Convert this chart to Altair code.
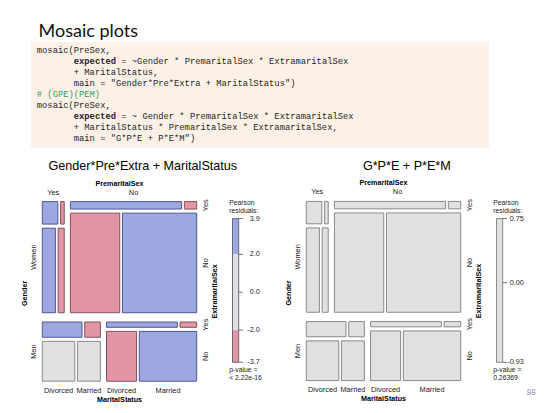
import altair as alt
import pandas as pd

# ---------------- page geometry ----------------
PAGE_W, PAGE_H, MARGIN = 550, 413, 8
W, H = PAGE_W - 2 * MARGIN, PAGE_H - 2 * MARGIN

# ---------------- data ----------------
genders = ["Women", "Men"]
premarital = ["Yes", "No"]
extramarital = ["Yes", "No"]
marital = ["Divorced", "Married"]

# PreSex counts: [gender][premarital][extramarital][marital]
women_pre_yes = [[17, 4], [54, 25]]
women_pre_no = [[36, 4], [214, 322]]
men_pre_yes = [[28, 11], [60, 42]]
men_pre_no = [[17, 4], [68, 130]]
counts = [[women_pre_yes, women_pre_no], [men_pre_yes, men_pre_no]]

# residual shading class of model 1 (+1 > 2, -1 < -2, 0 otherwise)
shade_women_pre_yes = [[1, -1], [1, -1]]
shade_women_pre_no = [[1, -1], [-1, 1]]
shade_men_pre_yes = [[1, -1], [0, 0]]
shade_men_pre_no = [[1, -1], [-1, 1]]
shade_model1 = [[shade_women_pre_yes, shade_women_pre_no],
                [shade_men_pre_yes, shade_men_pre_no]]
shade_model2 = [[[[0, 0], [0, 0]], [[0, 0], [0, 0]]],
                [[[0, 0], [0, 0]], [[0, 0], [0, 0]]]]

titles = ["Gender*Pre*Extra + MaritalStatus", "G*P*E + P*E*M"]
legend1_ticks = [3.9, 2.0, 0.0, -2.0, -3.7]
legend1_labels = ["3.9", "2.0", "0.0", "-2.0", "-3.7"]
legend1_bands = [(3.9, 2.0, 1), (2.0, -2.0, 0), (-2.0, -3.7, -1)]
legend2_ticks = [0.75, 0.00, -0.93]
legend2_labels = ["0.75", "0.00", "-0.93"]
legend2_bands = [(0.75, -0.93, 0)]
p_values = ["< 2.22e-16", "0.26369"]

slide_title = "Mosaic plots"
code_lines = [
    "mosaic(PreSex,",
    "expected = ~Gender * PremaritalSex * ExtramaritalSex",
    "+ MaritalStatus,",
    'main = "Gender*Pre*Extra + MaritalStatus")',
    "# (GPE)(PEM)",
    "mosaic(PreSex,",
    "expected = ~ Gender * PremaritalSex * ExtramaritalSex",
    "+ MaritalStatus * PremaritalSex * ExtramaritalSex,",
    'main = "G*P*E + P*E*M")',
]
code_indent = [0, 7, 7, 7, 0, 0, 7, 7, 7]
page_number = "88"

# ---------------- styles ----------------
FILL = {1: "#9DA8E2", 0: "#E0E0E0", -1: "#E295A5"}
BORDER = {1: "#4F5890", 0: "#8A8A8A", -1: "#86505C"}
RFONT = "Liberation Sans"
MONO = "Liberation Mono"

xs = alt.Scale(domain=[MARGIN, PAGE_W - MARGIN], range=[0, W], nice=False, zero=False)
ys = alt.Scale(domain=[MARGIN, PAGE_H - MARGIN], range=[0, H], nice=False, zero=False)


def split(lo, hi, weights, gap):
    total = float(sum(weights))
    avail = hi - lo - gap * (len(weights) - 1)
    out, pos = [], lo
    for w in weights:
        size = avail * w / total
        out.append((pos, pos + size))
        pos += size + gap
    return out


def tot(a):
    if isinstance(a, list):
        return sum(tot(b) for b in a)
    return a


GAPS = [9.3, 6.2, 4.1, 2.75]

rect_rows, text_rows, tick_rows = [], [], []


def mosaic(x0, x1, y0, y1, shade, title, ticks, labels, bands, pval):
    grows = split(y0, y1, [tot(g) for g in counts], GAPS[0])
    for gi, (gy0, gy1) in enumerate(grows):
        pcols = split(x0, x1, [tot(p) for p in counts[gi]], GAPS[1])
        for pi, (px0, px1) in enumerate(pcols):
            erows = split(gy0, gy1, [tot(e) for e in counts[gi][pi]], GAPS[2])
            for ei, (ey0, ey1) in enumerate(erows):
                mcols = split(px0, px1, counts[gi][pi][ei], GAPS[3])
                for mi, (mx0, mx1) in enumerate(mcols):
                    s = shade[gi][pi][ei][mi]
                    rect_rows.append(dict(x=mx0, x2=mx1, y=ey0, y2=ey1,
                                          fill=FILL[s], stroke=BORDER[s], sw=1.0))
                    if gi == len(grows) - 1 and ei == len(erows) - 1:
                        text_rows.append(dict(x=(mx0 + mx1) / 2, y=y1 + 9.5, text=marital[mi],
                                              kind="lab"))
                if pi == len(pcols) - 1:
                    text_rows.append(dict(x=x1 + 9, y=(ey0 + ey1) / 2, text=extramarital[ei],
                                          kind="labr"))
            if gi == 0:
                text_rows.append(dict(x=(px0 + px1) / 2, y=y0 - 9, text=premarital[pi], kind="lab"))
        text_rows.append(dict(x=x0 - 8.5, y=(gy0 + gy1) / 2, text=genders[gi], kind="labr"))
    cx, cy = (x0 + x1) / 2, (y0 + y1) / 2
    text_rows.append(dict(x=cx, y=y0 - 18, text="PremaritalSex", kind="var"))
    text_rows.append(dict(x=cx, y=y1 + 18.5, text="MaritalStatus", kind="var"))
    text_rows.append(dict(x=x0 - 17, y=cy + 2, text="Gender", kind="varr"))
    text_rows.append(dict(x=x1 + 18, y=cy, text="ExtramaritalSex", kind="varr"))
    text_rows.append(dict(x=x0 + 100.5, y=165.5, text=title, kind="title"))
    # legend
    lx0, lx1, ly0, ly1 = x1 + 35.8, x1 + 42, 218.5, 362.3
    vmax, vmin = ticks[0], ticks[-1]

    def vy(v):
        return ly0 + (vmax - v) / (vmax - vmin) * (ly1 - ly0)

    for hi, lo, s in bands:
        rect_rows.append(dict(x=lx0, x2=lx1, y=vy(hi), y2=vy(lo), fill=FILL[s],
                              stroke=FILL[s], sw=0.0))
    rect_rows.append(dict(x=lx0, x2=lx1, y=ly0, y2=ly1, fill="none",
                          stroke="#6A6A78" if len(bands) > 1 else "#8A8A8A", sw=1.0))
    for v, lab in zip(ticks, labels):
        tick_rows.append(dict(x=lx1, x2=lx1 + 4.3, y=vy(v)))
        text_rows.append(dict(x=x1 + 63, y=vy(v), text=lab, kind="leg"))
    text_rows.append(dict(x=x1 + 32.5, y=203.2, text="Pearson", kind="legl"))
    text_rows.append(dict(x=x1 + 32.5, y=210.9, text="residuals:", kind="legl"))
    text_rows.append(dict(x=x1 + 32.5, y=370.2, text="p-value =", kind="legl"))
    text_rows.append(dict(x=x1 + 32.5, y=378.4, text=pval, kind="legl"))


mosaic(42.3, 196.7, 201.6, 381.2, shade_model1, titles[0], legend1_ticks, legend1_labels,
       legend1_bands, p_values[0])
mosaic(306.3, 460.7, 201.4, 380.6, shade_model2, titles[1], legend2_ticks, legend2_labels,
       legend2_bands, p_values[1])

rects = pd.DataFrame(rect_rows)
texts = pd.DataFrame(text_rows)
ticks_df = pd.DataFrame(tick_rows)

# code rows
CODE_FS = 8.8
CHAR_W = 0.6 * CODE_FS
CODE_X, CODE_Y0, CODE_DY = 36.8, 50.2, 11.0
code_rows = []
for i, (line, ind) in enumerate(zip(code_lines, code_indent)):
    y = CODE_Y0 + i * CODE_DY
    x = CODE_X + ind * CHAR_W
    if line.startswith("#"):
        code_rows.append(dict(x=x, y=y, text=line, kind="comment"))
    elif line.startswith("expected"):
        code_rows.append(dict(x=x, y=y, text="expected", kind="bold"))
        rest = line[len("expected"):]
        code_rows.append(dict(x=x + (len("expected") + 1) * CHAR_W, y=y, text=rest.lstrip(),
                              kind="plain"))
    else:
        code_rows.append(dict(x=x, y=y, text=line, kind="plain"))
code_df = pd.DataFrame(code_rows)

box_df = pd.DataFrame([dict(x=31, x2=489, y=42, y2=147.7)])

X = lambda f="x": alt.X(f + ":Q", scale=xs, axis=None)
Y = lambda f="y": alt.Y(f + ":Q", scale=ys, axis=None)

box = alt.Chart(box_df).mark_rect(fill="#FDF1E7").encode(x=X(), x2="x2:Q", y=Y(), y2="y2:Q")

rect_layer = alt.Chart(rects).mark_rect().encode(
    x=X(), x2="x2:Q", y=Y(), y2="y2:Q",
    fill=alt.Fill("fill:N", scale=None),
    stroke=alt.Stroke("stroke:N", scale=None),
    strokeWidth=alt.StrokeWidth("sw:Q", scale=None),
)

tick_layer = alt.Chart(ticks_df).mark_rule(color="#555555", strokeWidth=0.8).encode(
    x=X(), x2="x2:Q", y=Y())


def tlayer(df, kind, **mark):
    return alt.Chart(df).transform_filter(alt.datum.kind == kind).mark_text(
        baseline="middle", **mark).encode(x=X(), y=Y(), text="text:N")


layers = [
    box,
    tlayer(code_df, "plain", align="left", font=MONO, fontSize=CODE_FS, color="#1E1E1E"),
    tlayer(code_df, "bold", align="left", font=MONO, fontSize=CODE_FS, fontWeight="bold",
           color="#1E1E1E"),
    tlayer(code_df, "comment", align="left", font=MONO, fontSize=CODE_FS, color="#2E9D5E"),
    rect_layer,
    tick_layer,
    tlayer(texts, "title", align="center", font=RFONT, fontSize=12.6, color="#000000"),
    tlayer(texts, "lab", align="center", font=RFONT, fontSize=7.4, color="#1A1A1A"),
    tlayer(texts, "labr", align="center", font=RFONT, fontSize=7.4, angle=270, color="#1A1A1A"),
    tlayer(texts, "var", align="center", font=RFONT, fontSize=7.2, fontWeight="bold",
           color="#000000"),
    tlayer(texts, "varr", align="center", font=RFONT, fontSize=7.2, fontWeight="bold",
           angle=270, color="#000000"),
    tlayer(texts, "leg", align="right", font=RFONT, fontSize=7.2, color="#1A1A1A"),
    tlayer(texts, "legl", align="left", font=RFONT, fontSize=6.8, color="#1A1A1A"),
]

head = pd.DataFrame([dict(x=38.5, y=36.7, text=slide_title, kind="h"),
                     dict(x=536, y=393.3, text=page_number, kind="pn")])
layers.append(alt.Chart(head).transform_filter(alt.datum.kind == "h").mark_text(
    align="left", baseline="alphabetic", font="Lato", fontSize=18, color="#111111"
).encode(x=X(), y=Y(), text="text:N"))
layers.append(alt.Chart(head).transform_filter(alt.datum.kind == "pn").mark_text(
    align="right", baseline="middle", font="Lato", fontSize=8, color="#8C8CA0"
).encode(x=X(), y=Y(), text="text:N"))

chart = alt.layer(*layers).properties(
    width=W, height=H, padding=0, autosize=alt.AutoSizeParams(type="none"),
    background="white",
).configure_view(stroke=None)

chart.save("out.html", embed_options={"renderer": "svg", "actions": False})
